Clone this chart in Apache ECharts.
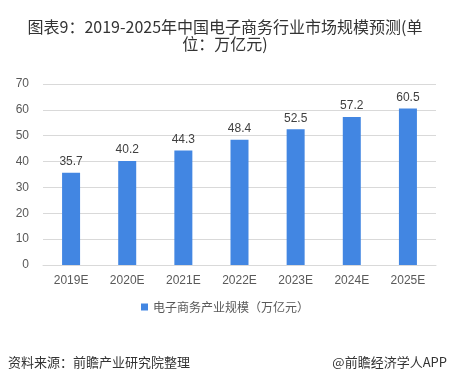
<!DOCTYPE html>
<html><head><meta charset="utf-8">
<script src="https://cdn.jsdelivr.net/npm/echarts@6/dist/echarts.min.js"></script>
<style>html,body{margin:0;padding:0;background:#fff}#c{width:450px;height:383px}</style>
</head><body><div id="c"></div>
<script>
const categories = ['2019E','2020E','2021E','2022E','2023E','2024E','2025E'];
const values = [35.7, 40.2, 44.3, 48.4, 52.5, 57.2, 60.5];
const seriesName = '电子商务产业规模（万亿元）';
const titleText = '图表9：2019-2025年中国电子商务行业市场规模预测(单\n位：万亿元)';
const sourceText = '资料来源：前瞻产业研究院整理';
const brandText = '@前瞻经济学人APP';
const font = '"Noto Sans CJK SC","Microsoft YaHei",sans-serif';
const chart = echarts.init(document.getElementById('c'));
chart.setOption({
  backgroundColor:'#fff',
  textStyle:{fontFamily:font},
  title:{text:titleText,left:'center',top:13,textStyle:{fontSize:16,fontWeight:'normal',color:'#333',lineHeight:17,fontFamily:font}},
  grid:{left:43,right:14,top:84,bottom:118,containLabel:false},
  legend:{bottom:65,left:'center',itemWidth:7,itemHeight:7,itemGap:4,icon:'rect',textStyle:{fontSize:12,color:'#595959',fontFamily:font},data:[seriesName]},
  xAxis:{type:'category',data:categories,axisTick:{show:false},axisLine:{lineStyle:{color:'#d9d9d9'}},axisLabel:{color:'#595959',fontSize:12,margin:10,fontFamily:'"Liberation Sans",Arial,sans-serif'}},
  yAxis:{type:'value',min:0,max:70,interval:10,axisLine:{show:false},axisTick:{show:false},splitLine:{lineStyle:{color:'#d9d9d9'}},axisLabel:{color:'#595959',fontSize:12,margin:14,fontFamily:'"Liberation Sans",Arial,sans-serif'}},
  series:[{name:seriesName,type:'bar',data:values,barWidth:18,itemStyle:{color:'#4286E2'},label:{show:true,position:'top',color:'#404040',fontSize:12,distance:5,fontFamily:'"Liberation Sans",Arial,sans-serif'}}],
  graphic:[
    {type:'text',left:8,top:356,style:{text:sourceText,fontSize:13,fill:'#333',fontFamily:font}},
    {type:'text',right:3,top:356,style:{text:brandText,fontSize:13,fill:'#333',fontFamily:font}}
  ]
});
</script></body></html>
